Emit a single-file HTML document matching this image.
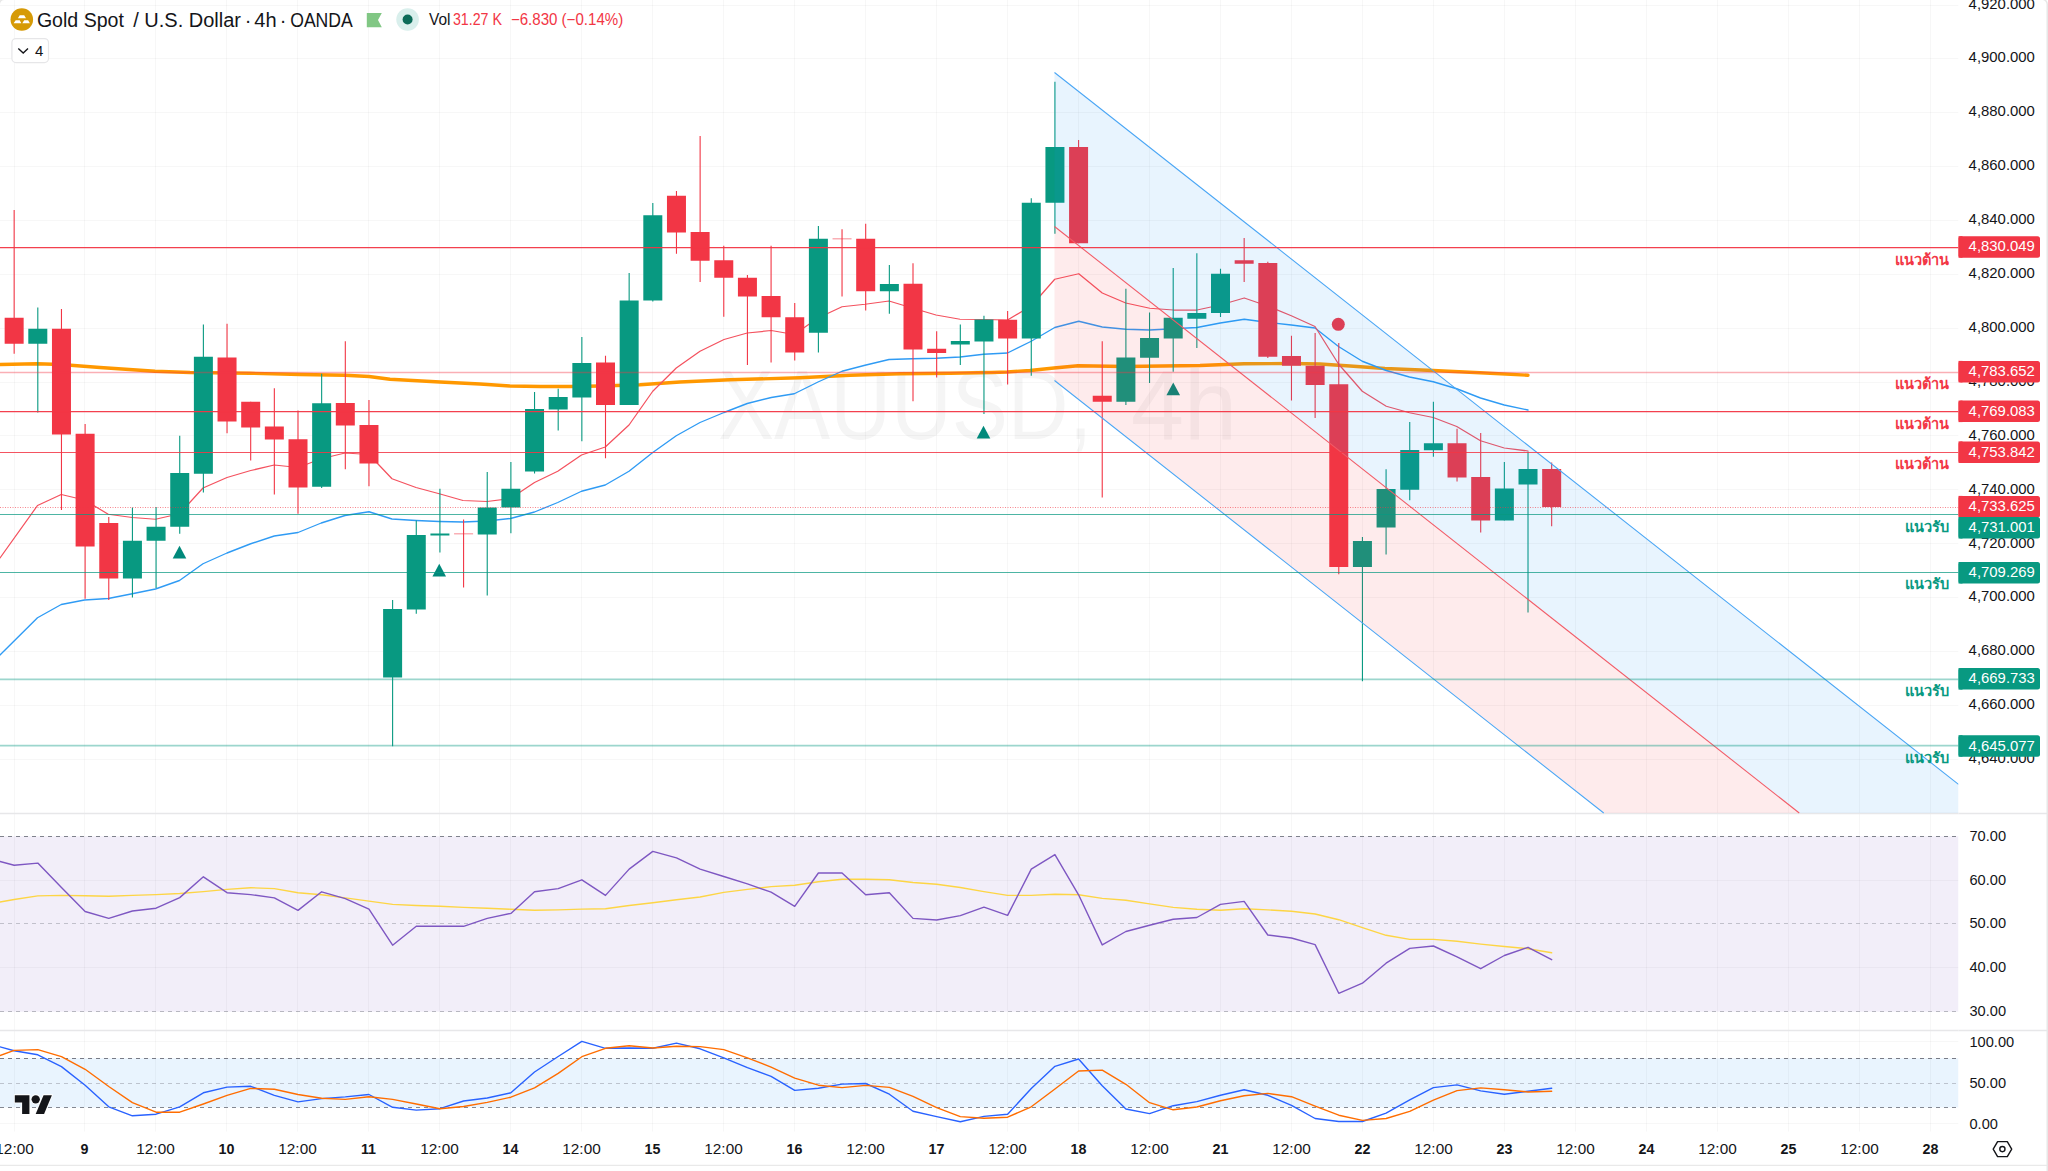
<!DOCTYPE html>
<html lang="th"><head><meta charset="utf-8"><title>XAUUSD 4h</title>
<style>html,body{margin:0;padding:0;background:#fff;overflow:hidden}body{width:2048px;height:1171px;position:relative}</style></head>
<body>
<svg width="2048" height="1171" viewBox="0 0 2048 1171" style="position:absolute;left:0;top:0">
<rect width="2048" height="1171" fill="#fff"/>
<rect x="0" y="836.3" width="1958.5" height="175.4" fill="#f2eef9"/>
<rect x="0" y="1058.3" width="1958.5" height="49.1" fill="#e9f4fe"/>
<path d="M14.5 0V1131.5M84.5 0V1131.5M155.5 0V1131.5M226.5 0V1131.5M297.5 0V1131.5M368.5 0V1131.5M439.5 0V1131.5M510.5 0V1131.5M581.5 0V1131.5M652.5 0V1131.5M723.5 0V1131.5M794.5 0V1131.5M865.5 0V1131.5M936.5 0V1131.5M1007.5 0V1131.5M1078.5 0V1131.5M1149.5 0V1131.5M1220.5 0V1131.5M1291.5 0V1131.5M1362.5 0V1131.5M1433.5 0V1131.5M1504.5 0V1131.5M1575.5 0V1131.5M1646.5 0V1131.5M1717.5 0V1131.5M1788.5 0V1131.5M1859.5 0V1131.5M1930.5 0V1131.5M0 759.5H1958.5M0 705.5H1958.5M0 651.5H1958.5M0 597.5H1958.5M0 543.5H1958.5M0 489.5H1958.5M0 435.5H1958.5M0 382.5H1958.5M0 328.5H1958.5M0 274.5H1958.5M0 220.5H1958.5M0 166.5H1958.5M0 112.5H1958.5M0 58.5H1958.5M0 5.5H1958.5M0 880.5H1958.5M0 967.5H1958.5M0 1041.5H1958.5M0 1123.5H1958.5" stroke="#131722" stroke-opacity="0.034" stroke-width="1" fill="none"/>
<path d="M0 836.5H1958.5" stroke="#787b86" stroke-opacity="0.95" stroke-width="1" stroke-dasharray="4 4" fill="none"/>
<path d="M0 923.5H1958.5" stroke="#787b86" stroke-opacity="0.4" stroke-width="1" stroke-dasharray="4 4" fill="none"/>
<path d="M0 1011.5H1958.5" stroke="#787b86" stroke-opacity="0.5" stroke-width="1" stroke-dasharray="4 4" fill="none"/>
<path d="M0 1058.5H1958.5" stroke="#787b86" stroke-opacity="1" stroke-width="1" stroke-dasharray="4 4" fill="none"/>
<path d="M0 1083.5H1958.5" stroke="#787b86" stroke-opacity="0.4" stroke-width="1" stroke-dasharray="4 4" fill="none"/>
<path d="M0 1107.5H1958.5" stroke="#787b86" stroke-opacity="0.9" stroke-width="1" stroke-dasharray="4 4" fill="none"/>
<path d="M0 813.5H2048 M0 1030.5H2048" stroke="#e7e7e9" stroke-width="1.4" fill="none"/>
<g font-size="98" font-family="Liberation Sans, DejaVu Sans, sans-serif" fill="#131722" fill-opacity="0.042"><text x="718" y="438.5" textLength="374" lengthAdjust="spacingAndGlyphs">XAUUSD,</text><text x="1131" y="438.5" textLength="106" lengthAdjust="spacingAndGlyphs">4h</text></g>
<polyline fill="none" stroke="#ff9800" stroke-width="3.4" stroke-linejoin="round" stroke-linecap="round"  points="0.00,364.50 37.00,363.75 61.00,364.50 100.00,367.50 155.00,371.25 190.00,372.50 250.00,373.25 300.00,374.50 345.00,375.25 369.00,376.50 390.00,379.25 440.00,382.00 480.00,384.00 510.00,386.00 540.00,386.50 570.00,386.50 600.00,386.00 640.00,384.75 680.00,382.00 730.00,379.75 800.00,377.75 850.00,375.25 900.00,373.75 950.00,373.25 992.00,372.50 1007.00,372.00 1030.00,370.50 1054.00,368.00 1078.00,365.75 1125.00,366.50 1200.00,365.50 1244.00,363.75 1291.00,363.50 1320.00,364.00 1350.00,366.00 1385.00,368.50 1433.00,370.50 1480.00,372.75 1528.00,375.25"/>
<polyline fill="none" stroke="#2f9bf4" stroke-width="1.35" stroke-linejoin="round" stroke-linecap="round"  points="0.00,655.00 37.50,617.75 61.25,604.50 84.50,600.00 108.25,598.50 132.25,593.75 155.50,589.00 179.50,580.50 203.00,563.75 227.00,553.00 250.75,543.75 274.25,536.00 298.00,532.50 321.25,523.00 345.00,515.50 369.00,511.75 392.00,519.00 416.00,520.50 439.25,521.50 463.00,522.00 487.00,521.00 510.50,518.50 534.50,512.00 557.75,502.50 581.50,491.25 605.25,485.00 629.00,471.25 652.75,452.50 676.25,435.75 700.00,422.50 724.00,412.50 747.25,403.50 771.25,397.50 794.25,393.75 818.00,382.00 842.00,371.25 865.00,365.25 889.00,359.50 912.25,358.75 936.00,358.25 960.00,357.00 983.50,354.25 1007.50,353.00 1031.25,341.25 1054.75,327.50 1078.75,321.25 1102.25,327.00 1125.75,329.25 1149.75,330.00 1173.25,328.75 1197.00,327.50 1220.25,323.00 1244.25,319.25 1268.25,322.50 1291.30,325.00 1315.00,328.00 1338.50,346.50 1362.25,361.25 1386.25,370.50 1409.50,377.00 1433.25,381.75 1456.75,388.75 1480.50,398.00 1504.25,405.00 1528.00,410.00"/>
<polyline fill="none" stroke="#f4525f" stroke-width="1.25" stroke-linejoin="round" stroke-linecap="round"  points="0.00,558.00 37.50,505.50 61.25,494.50 84.50,500.00 108.25,514.25 132.25,517.50 155.50,519.25 179.50,513.75 203.00,488.00 227.00,477.50 250.75,470.50 274.25,465.00 298.00,467.50 321.25,458.75 345.00,453.00 369.00,454.50 392.00,478.75 416.00,487.50 439.25,493.75 463.00,500.50 487.00,501.50 510.50,498.50 534.50,482.50 557.75,471.25 581.50,455.00 605.25,447.00 629.00,425.00 652.75,391.25 676.25,368.00 700.00,351.25 724.00,339.50 747.25,333.00 771.25,330.50 794.25,334.50 818.00,318.00 842.00,306.75 865.00,304.25 889.00,301.00 912.25,308.00 936.00,315.00 960.00,319.25 983.50,319.50 1007.50,320.00 1031.25,306.00 1054.75,279.25 1078.75,273.75 1102.25,293.00 1125.75,303.00 1149.75,308.25 1173.25,310.00 1197.00,310.00 1220.25,305.00 1244.25,298.00 1268.25,306.25 1291.30,315.75 1315.00,326.50 1338.50,364.00 1362.25,391.25 1386.25,406.25 1409.50,412.75 1433.25,417.50 1456.75,426.50 1480.50,440.75 1504.25,448.00 1528.00,451.00"/>
<rect x="13.60" y="210.00" width="1.1" height="143.75" fill="#f23645"/>
<rect x="4.65" y="317.75" width="19" height="26.00" fill="#f23645"/>
<rect x="37.25" y="307.50" width="1.1" height="105.00" fill="#089981"/>
<rect x="28.30" y="328.75" width="19" height="15.00" fill="#089981"/>
<rect x="60.91" y="309.00" width="1.1" height="201.00" fill="#f23645"/>
<rect x="51.96" y="328.75" width="19" height="105.75" fill="#f23645"/>
<rect x="84.56" y="424.00" width="1.1" height="174.75" fill="#f23645"/>
<rect x="75.61" y="433.75" width="19" height="112.75" fill="#f23645"/>
<rect x="108.22" y="517.00" width="1.1" height="83.00" fill="#f23645"/>
<rect x="99.27" y="523.00" width="19" height="55.50" fill="#f23645"/>
<rect x="131.87" y="507.50" width="1.1" height="90.00" fill="#089981"/>
<rect x="122.92" y="540.75" width="19" height="37.75" fill="#089981"/>
<rect x="155.52" y="507.00" width="1.1" height="81.00" fill="#089981"/>
<rect x="146.57" y="526.75" width="19" height="14.00" fill="#089981"/>
<rect x="179.18" y="435.75" width="1.1" height="98.00" fill="#089981"/>
<rect x="170.23" y="473.00" width="19" height="53.75" fill="#089981"/>
<rect x="202.83" y="324.50" width="1.1" height="168.00" fill="#089981"/>
<rect x="193.88" y="356.75" width="19" height="117.00" fill="#089981"/>
<rect x="226.49" y="323.75" width="1.1" height="109.50" fill="#f23645"/>
<rect x="217.54" y="357.50" width="19" height="64.00" fill="#f23645"/>
<rect x="250.14" y="401.75" width="1.1" height="58.75" fill="#f23645"/>
<rect x="241.19" y="401.75" width="19" height="25.75" fill="#f23645"/>
<rect x="273.79" y="388.25" width="1.1" height="106.25" fill="#f23645"/>
<rect x="264.84" y="426.50" width="19" height="13.00" fill="#f23645"/>
<rect x="297.45" y="410.50" width="1.1" height="103.25" fill="#f23645"/>
<rect x="288.50" y="439.25" width="19" height="48.25" fill="#f23645"/>
<rect x="321.10" y="373.75" width="1.1" height="114.25" fill="#089981"/>
<rect x="312.15" y="403.25" width="19" height="83.50" fill="#089981"/>
<rect x="344.76" y="341.25" width="1.1" height="128.00" fill="#f23645"/>
<rect x="335.81" y="403.00" width="19" height="22.50" fill="#f23645"/>
<rect x="368.41" y="400.00" width="1.1" height="86.25" fill="#f23645"/>
<rect x="359.46" y="425.00" width="19" height="38.50" fill="#f23645"/>
<rect x="392.06" y="600.00" width="1.1" height="146.25" fill="#089981"/>
<rect x="383.11" y="609.00" width="19" height="68.50" fill="#089981"/>
<rect x="415.72" y="520.50" width="1.1" height="93.25" fill="#089981"/>
<rect x="406.77" y="535.00" width="19" height="74.50" fill="#089981"/>
<rect x="439.37" y="488.75" width="1.1" height="63.75" fill="#089981"/>
<rect x="430.42" y="533.50" width="19" height="2.00" fill="#089981"/>
<rect x="463.03" y="519.50" width="1.1" height="68.00" fill="#f23645"/>
<rect x="454.08" y="533.00" width="19" height="1.50" fill="#f23645" fill-opacity="0.4"/>
<rect x="486.68" y="472.00" width="1.1" height="123.50" fill="#089981"/>
<rect x="477.73" y="507.50" width="19" height="27.00" fill="#089981"/>
<rect x="510.33" y="462.00" width="1.1" height="71.25" fill="#089981"/>
<rect x="501.38" y="488.75" width="19" height="18.75" fill="#089981"/>
<rect x="533.99" y="392.00" width="1.1" height="81.50" fill="#089981"/>
<rect x="525.04" y="409.00" width="19" height="62.50" fill="#089981"/>
<rect x="557.64" y="388.75" width="1.1" height="41.75" fill="#089981"/>
<rect x="548.69" y="397.00" width="19" height="12.50" fill="#089981"/>
<rect x="581.30" y="337.00" width="1.1" height="104.25" fill="#089981"/>
<rect x="572.35" y="363.00" width="19" height="34.50" fill="#089981"/>
<rect x="604.95" y="355.75" width="1.1" height="102.50" fill="#f23645"/>
<rect x="596.00" y="362.50" width="19" height="42.50" fill="#f23645"/>
<rect x="628.60" y="273.00" width="1.1" height="132.00" fill="#089981"/>
<rect x="619.65" y="300.50" width="19" height="104.50" fill="#089981"/>
<rect x="652.26" y="203.00" width="1.1" height="98.50" fill="#089981"/>
<rect x="643.31" y="215.25" width="19" height="85.25" fill="#089981"/>
<rect x="675.91" y="191.00" width="1.1" height="62.75" fill="#f23645"/>
<rect x="666.96" y="195.75" width="19" height="36.75" fill="#f23645"/>
<rect x="699.57" y="136.00" width="1.1" height="146.00" fill="#f23645"/>
<rect x="690.62" y="232.00" width="19" height="28.75" fill="#f23645"/>
<rect x="723.22" y="245.75" width="1.1" height="71.00" fill="#f23645"/>
<rect x="714.27" y="260.25" width="19" height="17.50" fill="#f23645"/>
<rect x="746.87" y="275.00" width="1.1" height="90.00" fill="#f23645"/>
<rect x="737.92" y="277.75" width="19" height="18.75" fill="#f23645"/>
<rect x="770.53" y="245.75" width="1.1" height="116.75" fill="#f23645"/>
<rect x="761.58" y="296.00" width="19" height="21.25" fill="#f23645"/>
<rect x="794.18" y="303.00" width="1.1" height="57.50" fill="#f23645"/>
<rect x="785.23" y="317.25" width="19" height="35.25" fill="#f23645"/>
<rect x="817.84" y="226.00" width="1.1" height="126.50" fill="#089981"/>
<rect x="808.89" y="238.75" width="19" height="94.00" fill="#089981"/>
<rect x="841.49" y="229.25" width="1.1" height="67.25" fill="#f23645"/>
<rect x="832.54" y="238.00" width="19" height="1.50" fill="#f23645" fill-opacity="0.4"/>
<rect x="865.14" y="223.75" width="1.1" height="86.75" fill="#f23645"/>
<rect x="856.19" y="238.75" width="19" height="52.50" fill="#f23645"/>
<rect x="888.80" y="265.00" width="1.1" height="48.75" fill="#089981"/>
<rect x="879.85" y="284.00" width="19" height="7.25" fill="#089981"/>
<rect x="912.45" y="263.25" width="1.1" height="138.00" fill="#f23645"/>
<rect x="903.50" y="283.75" width="19" height="65.75" fill="#f23645"/>
<rect x="936.11" y="331.25" width="1.1" height="46.25" fill="#f23645"/>
<rect x="927.16" y="348.75" width="19" height="4.25" fill="#f23645"/>
<rect x="959.76" y="324.50" width="1.1" height="40.50" fill="#089981"/>
<rect x="950.81" y="341.00" width="19" height="3.50" fill="#089981"/>
<rect x="983.41" y="315.75" width="1.1" height="98.25" fill="#089981"/>
<rect x="974.46" y="319.50" width="19" height="22.00" fill="#089981"/>
<rect x="1007.07" y="311.00" width="1.1" height="73.50" fill="#f23645"/>
<rect x="998.12" y="319.75" width="19" height="18.75" fill="#f23645"/>
<rect x="1030.72" y="198.25" width="1.1" height="177.50" fill="#089981"/>
<rect x="1021.77" y="202.75" width="19" height="135.75" fill="#089981"/>
<rect x="1054.38" y="81.75" width="1.1" height="152.00" fill="#089981"/>
<rect x="1045.43" y="147.00" width="19" height="55.75" fill="#089981"/>
<rect x="1078.03" y="140.00" width="1.1" height="103.25" fill="#f23645"/>
<rect x="1069.08" y="147.00" width="19" height="96.25" fill="#f23645"/>
<rect x="1101.68" y="341.25" width="1.1" height="156.25" fill="#f23645"/>
<rect x="1092.73" y="395.75" width="19" height="6.00" fill="#f23645"/>
<rect x="1125.34" y="288.75" width="1.1" height="116.25" fill="#089981"/>
<rect x="1116.39" y="357.50" width="19" height="44.25" fill="#089981"/>
<rect x="1148.99" y="312.50" width="1.1" height="70.50" fill="#089981"/>
<rect x="1140.04" y="338.00" width="19" height="19.75" fill="#089981"/>
<rect x="1172.65" y="268.00" width="1.1" height="103.75" fill="#089981"/>
<rect x="1163.70" y="317.75" width="19" height="20.75" fill="#089981"/>
<rect x="1196.30" y="253.25" width="1.1" height="94.75" fill="#089981"/>
<rect x="1187.35" y="313.00" width="19" height="5.75" fill="#089981"/>
<rect x="1219.95" y="268.75" width="1.1" height="48.25" fill="#089981"/>
<rect x="1211.00" y="273.75" width="19" height="39.25" fill="#089981"/>
<rect x="1243.61" y="238.00" width="1.1" height="44.00" fill="#f23645"/>
<rect x="1234.66" y="260.25" width="19" height="3.50" fill="#f23645"/>
<rect x="1267.26" y="261.75" width="1.1" height="96.25" fill="#f23645"/>
<rect x="1258.31" y="263.00" width="19" height="93.75" fill="#f23645"/>
<rect x="1290.92" y="335.75" width="1.1" height="64.75" fill="#f23645"/>
<rect x="1281.97" y="356.00" width="19" height="9.75" fill="#f23645"/>
<rect x="1314.57" y="333.00" width="1.1" height="85.00" fill="#f23645"/>
<rect x="1305.62" y="365.75" width="19" height="19.25" fill="#f23645"/>
<rect x="1338.22" y="343.00" width="1.1" height="231.25" fill="#f23645"/>
<rect x="1329.27" y="384.25" width="19" height="182.75" fill="#f23645"/>
<rect x="1361.88" y="537.00" width="1.1" height="144.25" fill="#089981"/>
<rect x="1352.93" y="541.00" width="19" height="26.00" fill="#089981"/>
<rect x="1385.53" y="469.25" width="1.1" height="85.25" fill="#089981"/>
<rect x="1376.58" y="489.00" width="19" height="38.50" fill="#089981"/>
<rect x="1409.19" y="422.00" width="1.1" height="78.25" fill="#089981"/>
<rect x="1400.24" y="450.00" width="19" height="39.75" fill="#089981"/>
<rect x="1432.84" y="401.75" width="1.1" height="55.00" fill="#089981"/>
<rect x="1423.89" y="443.25" width="19" height="7.00" fill="#089981"/>
<rect x="1456.49" y="428.75" width="1.1" height="52.75" fill="#f23645"/>
<rect x="1447.54" y="443.25" width="19" height="34.25" fill="#f23645"/>
<rect x="1480.15" y="433.00" width="1.1" height="99.50" fill="#f23645"/>
<rect x="1471.20" y="477.00" width="19" height="43.50" fill="#f23645"/>
<rect x="1503.80" y="462.00" width="1.1" height="58.50" fill="#089981"/>
<rect x="1494.85" y="488.50" width="19" height="32.00" fill="#089981"/>
<rect x="1527.46" y="451.75" width="1.1" height="160.75" fill="#089981"/>
<rect x="1518.51" y="469.00" width="19" height="15.50" fill="#089981"/>
<rect x="1551.11" y="462.50" width="1.1" height="63.75" fill="#f23645"/>
<rect x="1542.16" y="469.00" width="19" height="38.00" fill="#f23645"/>
<path d="M179.50 545.75L186.30 558.45H172.70Z" fill="#00897b"/>
<path d="M439.25 563.75L446.05 576.45H432.45Z" fill="#00897b"/>
<path d="M983.50 425.75L990.30 438.45H976.70Z" fill="#00897b"/>
<path d="M1173.25 382.50L1180.05 395.20H1166.45Z" fill="#00897b"/>
<circle cx="1338.3" cy="324.3" r="6.5" fill="#f23645"/>
<path d="M1054.50 72.50L1958.50 784.40V813H1799.26L1054.50 226.50Z" fill="#2196f3" fill-opacity="0.1"/>
<path d="M1054.50 226.50L1799.26 813H1603.71L1054.50 380.50Z" fill="#f23645" fill-opacity="0.1"/>
<path d="M1054.50 72.50L1958.50 784.40M1054.50 380.50L1603.71 813" stroke="#4aa6f5" stroke-width="1.05" fill="none"/>
<path d="M1054.50 226.50L1799.26 813" stroke="#f25a66" stroke-width="1.05" fill="none"/>
<path d="M0 247.5H1958.5" stroke="#f23645" stroke-opacity="0.95" stroke-width="1.25" fill="none"/>
<path d="M0 372.5H1958.5" stroke="#f23645" stroke-opacity="0.4" stroke-width="1.6" fill="none"/>
<path d="M0 411.5H1958.5" stroke="#f23645" stroke-opacity="0.95" stroke-width="1.25" fill="none"/>
<path d="M0 452.5H1958.5" stroke="#f23645" stroke-opacity="0.85" stroke-width="1.2" fill="none"/>
<path d="M0 514.5H1958.5" stroke="#089981" stroke-opacity="0.72" stroke-width="1.2" fill="none"/>
<path d="M0 572.5H1958.5" stroke="#089981" stroke-opacity="0.72" stroke-width="1.2" fill="none"/>
<path d="M0 679.3H1958.5" stroke="#089981" stroke-opacity="0.4" stroke-width="1.8" fill="none"/>
<path d="M0 745.6H1958.5" stroke="#089981" stroke-opacity="0.4" stroke-width="1.8" fill="none"/>
<path d="M0 507.5H1958.5" stroke="#f23645" stroke-opacity="0.6" stroke-width="1" stroke-dasharray="1 1.5" fill="none"/>
<polyline fill="none" stroke="#fdd545" stroke-width="1.4" stroke-linejoin="round" stroke-linecap="round"  points="0.00,902.00 14.15,899.50 37.80,895.90 61.46,895.40 85.11,895.80 108.77,896.20 132.42,895.40 156.07,894.60 179.73,893.50 203.38,891.60 227.04,889.40 250.69,887.70 274.34,888.60 298.00,892.70 321.65,894.80 345.31,897.90 368.96,901.10 392.61,904.40 416.27,905.50 439.92,906.30 463.58,907.40 487.23,908.20 510.88,909.30 534.54,910.20 558.19,909.90 581.85,909.10 605.50,908.80 629.15,905.50 652.81,902.80 676.46,899.80 700.12,897.00 723.77,892.40 747.42,889.40 771.08,886.60 794.73,885.30 818.39,881.70 842.04,879.30 865.69,879.30 889.35,879.80 913.00,882.50 936.66,884.20 960.31,887.50 983.96,891.60 1007.62,895.40 1031.27,895.40 1054.93,894.30 1078.58,894.80 1102.23,898.40 1125.89,900.30 1149.54,903.90 1173.20,907.40 1196.85,909.30 1220.50,910.20 1244.16,908.80 1267.81,909.90 1291.47,911.30 1315.12,914.00 1338.77,919.70 1362.43,927.70 1386.08,935.30 1409.74,939.40 1433.39,939.40 1457.04,941.30 1480.70,944.10 1504.35,946.50 1528.01,948.70 1551.66,952.80"/>
<polyline fill="none" stroke="#7e57c2" stroke-width="1.4" stroke-linejoin="round" stroke-linecap="round"  points="0.00,861.50 14.15,865.30 37.80,863.10 61.46,887.50 85.11,911.50 108.77,918.40 132.42,911.00 156.07,908.20 179.73,897.60 203.38,876.80 227.04,892.70 250.69,894.60 274.34,897.90 298.00,910.40 321.65,891.80 345.31,898.70 368.96,909.10 392.61,945.20 416.27,926.30 439.92,926.30 463.58,926.30 487.23,918.40 510.88,913.40 534.54,891.80 558.19,888.60 581.85,879.80 605.50,895.40 629.15,869.10 652.81,851.40 676.46,857.90 700.12,869.10 723.77,876.50 747.42,883.90 771.08,892.10 794.73,906.30 818.39,873.00 842.04,873.00 865.69,894.80 889.35,892.70 913.00,918.40 936.66,920.00 960.31,915.60 983.96,907.20 1007.62,915.40 1031.27,869.10 1054.93,854.60 1078.58,894.80 1102.23,944.90 1125.89,931.50 1149.54,925.20 1173.20,919.20 1196.85,917.50 1220.50,904.40 1244.16,901.40 1267.81,935.00 1291.47,938.00 1315.12,944.60 1338.77,993.30 1362.43,983.20 1386.08,963.20 1409.74,948.40 1433.39,946.00 1457.04,956.90 1480.70,968.70 1504.35,955.50 1528.01,947.30 1551.66,959.70"/>
<polyline fill="none" stroke="#2962ff" stroke-width="1.4" stroke-linejoin="round" stroke-linecap="round"  points="0.00,1046.90 14.15,1050.70 37.80,1054.80 61.46,1066.60 85.11,1085.20 108.77,1106.80 132.42,1115.80 156.07,1114.20 179.73,1106.80 203.38,1092.80 227.04,1087.10 250.69,1086.30 274.34,1095.30 298.00,1101.90 321.65,1098.60 345.31,1096.90 368.96,1094.50 392.61,1107.30 416.27,1110.10 439.92,1108.70 463.58,1101.00 487.23,1098.00 510.88,1092.80 534.54,1072.00 558.19,1056.50 581.85,1041.40 605.50,1048.30 629.15,1048.00 652.81,1048.30 676.46,1043.10 700.12,1048.80 723.77,1057.80 747.42,1067.70 771.08,1076.40 794.73,1090.40 818.39,1088.20 842.04,1084.10 865.69,1083.50 889.35,1094.20 913.00,1111.20 936.66,1116.60 960.31,1121.80 983.96,1116.40 1007.62,1114.20 1031.27,1088.50 1054.93,1066.30 1078.58,1059.00 1102.23,1085.70 1125.89,1109.00 1149.54,1113.60 1173.20,1105.70 1196.85,1101.60 1220.50,1095.30 1244.16,1089.80 1267.81,1095.30 1291.47,1105.40 1315.12,1118.50 1338.77,1121.50 1362.43,1121.50 1386.08,1113.10 1409.74,1099.90 1433.39,1087.60 1457.04,1084.90 1480.70,1090.90 1504.35,1094.20 1528.01,1091.20 1551.66,1088.20"/>
<polyline fill="none" stroke="#ff6d00" stroke-width="1.4" stroke-linejoin="round" stroke-linecap="round"  points="0.00,1055.60 14.15,1050.40 37.80,1049.60 61.46,1056.70 85.11,1069.30 108.77,1086.50 132.42,1102.70 156.07,1112.20 179.73,1112.20 203.38,1104.00 227.04,1095.30 250.69,1088.40 274.34,1089.30 298.00,1094.50 321.65,1098.30 345.31,1099.40 368.96,1096.70 392.61,1099.40 416.27,1104.00 439.92,1108.70 463.58,1106.50 487.23,1102.40 510.88,1097.20 534.54,1087.90 558.19,1073.40 581.85,1056.70 605.50,1048.30 629.15,1045.80 652.81,1048.00 676.46,1046.30 700.12,1046.60 723.77,1049.60 747.42,1057.80 771.08,1067.10 794.73,1078.10 818.39,1085.20 842.04,1087.60 865.69,1085.40 889.35,1087.40 913.00,1096.40 936.66,1107.60 960.31,1116.60 983.96,1118.30 1007.62,1117.20 1031.27,1106.80 1054.93,1089.00 1078.58,1071.00 1102.23,1070.10 1125.89,1084.30 1149.54,1102.70 1173.20,1109.80 1196.85,1107.00 1220.50,1100.80 1244.16,1095.80 1267.81,1093.40 1291.47,1096.70 1315.12,1106.20 1338.77,1115.20 1362.43,1120.40 1386.08,1118.50 1409.74,1111.40 1433.39,1100.20 1457.04,1090.60 1480.70,1087.90 1504.35,1089.80 1528.01,1092.00 1551.66,1091.20"/>
<rect x="1958.5" y="0" width="89.5" height="1131" fill="#fff"/>
<path d="M1958.5 813.5H2048 M1958.5 1030.5H2048" stroke="#e7e7e9" stroke-width="1.4" fill="none"/>
<text x="1968.6" textLength="66.3" lengthAdjust="spacingAndGlyphs" y="763.2" font-size="14.6" font-family="Liberation Sans, DejaVu Sans, sans-serif" fill="#141519">4,640.000</text>
<text x="1968.6" textLength="66.3" lengthAdjust="spacingAndGlyphs" y="709.3" font-size="14.6" font-family="Liberation Sans, DejaVu Sans, sans-serif" fill="#141519">4,660.000</text>
<text x="1968.6" textLength="66.3" lengthAdjust="spacingAndGlyphs" y="655.4" font-size="14.6" font-family="Liberation Sans, DejaVu Sans, sans-serif" fill="#141519">4,680.000</text>
<text x="1968.6" textLength="66.3" lengthAdjust="spacingAndGlyphs" y="601.4" font-size="14.6" font-family="Liberation Sans, DejaVu Sans, sans-serif" fill="#141519">4,700.000</text>
<text x="1968.6" textLength="66.3" lengthAdjust="spacingAndGlyphs" y="547.5" font-size="14.6" font-family="Liberation Sans, DejaVu Sans, sans-serif" fill="#141519">4,720.000</text>
<text x="1968.6" textLength="66.3" lengthAdjust="spacingAndGlyphs" y="493.6" font-size="14.6" font-family="Liberation Sans, DejaVu Sans, sans-serif" fill="#141519">4,740.000</text>
<text x="1968.6" textLength="66.3" lengthAdjust="spacingAndGlyphs" y="439.7" font-size="14.6" font-family="Liberation Sans, DejaVu Sans, sans-serif" fill="#141519">4,760.000</text>
<text x="1968.6" textLength="66.3" lengthAdjust="spacingAndGlyphs" y="385.7" font-size="14.6" font-family="Liberation Sans, DejaVu Sans, sans-serif" fill="#141519">4,780.000</text>
<text x="1968.6" textLength="66.3" lengthAdjust="spacingAndGlyphs" y="331.8" font-size="14.6" font-family="Liberation Sans, DejaVu Sans, sans-serif" fill="#141519">4,800.000</text>
<text x="1968.6" textLength="66.3" lengthAdjust="spacingAndGlyphs" y="277.9" font-size="14.6" font-family="Liberation Sans, DejaVu Sans, sans-serif" fill="#141519">4,820.000</text>
<text x="1968.6" textLength="66.3" lengthAdjust="spacingAndGlyphs" y="224.0" font-size="14.6" font-family="Liberation Sans, DejaVu Sans, sans-serif" fill="#141519">4,840.000</text>
<text x="1968.6" textLength="66.3" lengthAdjust="spacingAndGlyphs" y="170.0" font-size="14.6" font-family="Liberation Sans, DejaVu Sans, sans-serif" fill="#141519">4,860.000</text>
<text x="1968.6" textLength="66.3" lengthAdjust="spacingAndGlyphs" y="116.1" font-size="14.6" font-family="Liberation Sans, DejaVu Sans, sans-serif" fill="#141519">4,880.000</text>
<text x="1968.6" textLength="66.3" lengthAdjust="spacingAndGlyphs" y="62.2" font-size="14.6" font-family="Liberation Sans, DejaVu Sans, sans-serif" fill="#141519">4,900.000</text>
<text x="1968.6" textLength="66.3" lengthAdjust="spacingAndGlyphs" y="9.0" font-size="14.6" font-family="Liberation Sans, DejaVu Sans, sans-serif" fill="#141519">4,920.000</text>
<text x="1969.5" y="840.6" font-size="14.6" font-family="Liberation Sans, DejaVu Sans, sans-serif" fill="#141519">70.00</text>
<text x="1969.5" y="884.6" font-size="14.6" font-family="Liberation Sans, DejaVu Sans, sans-serif" fill="#141519">60.00</text>
<text x="1969.5" y="928.4" font-size="14.6" font-family="Liberation Sans, DejaVu Sans, sans-serif" fill="#141519">50.00</text>
<text x="1969.5" y="972.2" font-size="14.6" font-family="Liberation Sans, DejaVu Sans, sans-serif" fill="#141519">40.00</text>
<text x="1969.5" y="1016.2" font-size="14.6" font-family="Liberation Sans, DejaVu Sans, sans-serif" fill="#141519">30.00</text>
<text x="1969.5" y="1046.8" font-size="14.6" font-family="Liberation Sans, DejaVu Sans, sans-serif" fill="#141519">100.00</text>
<text x="1969.5" y="1088.1" font-size="14.6" font-family="Liberation Sans, DejaVu Sans, sans-serif" fill="#141519">50.00</text>
<text x="1969.5" y="1129.2" font-size="14.6" font-family="Liberation Sans, DejaVu Sans, sans-serif" fill="#141519">0.00</text>
<rect x="1958.5" y="236.2" width="81.5" height="21.5" rx="2.5" fill="#f23645"/><rect x="1958.5" y="236.2" width="4" height="21.5" fill="#f23645"/><text x="1968.6" textLength="66.3" lengthAdjust="spacingAndGlyphs" y="251.4" font-size="14.6" font-family="Liberation Sans, DejaVu Sans, sans-serif" fill="#fff">4,830.049</text>
<rect x="1958.5" y="360.9" width="81.5" height="21.5" rx="2.5" fill="#f23645"/><rect x="1958.5" y="360.9" width="4" height="21.5" fill="#f23645"/><text x="1968.6" textLength="66.3" lengthAdjust="spacingAndGlyphs" y="376.2" font-size="14.6" font-family="Liberation Sans, DejaVu Sans, sans-serif" fill="#fff">4,783.652</text>
<rect x="1958.5" y="400.6" width="81.5" height="21.5" rx="2.5" fill="#f23645"/><rect x="1958.5" y="400.6" width="4" height="21.5" fill="#f23645"/><text x="1968.6" textLength="66.3" lengthAdjust="spacingAndGlyphs" y="415.9" font-size="14.6" font-family="Liberation Sans, DejaVu Sans, sans-serif" fill="#fff">4,769.083</text>
<rect x="1958.5" y="441.4" width="81.5" height="21.5" rx="2.5" fill="#f23645"/><rect x="1958.5" y="441.4" width="4" height="21.5" fill="#f23645"/><text x="1968.6" textLength="66.3" lengthAdjust="spacingAndGlyphs" y="456.7" font-size="14.6" font-family="Liberation Sans, DejaVu Sans, sans-serif" fill="#fff">4,753.842</text>
<rect x="1958.5" y="495.9" width="81.5" height="21.5" rx="2.5" fill="#f23645"/><rect x="1958.5" y="495.9" width="4" height="21.5" fill="#f23645"/><text x="1968.6" textLength="66.3" lengthAdjust="spacingAndGlyphs" y="511.2" font-size="14.6" font-family="Liberation Sans, DejaVu Sans, sans-serif" fill="#fff">4,733.625</text>
<rect x="1958.5" y="517.0" width="81.5" height="21.5" rx="2.5" fill="#089981"/><rect x="1958.5" y="517.0" width="4" height="21.5" fill="#089981"/><text x="1968.6" textLength="66.3" lengthAdjust="spacingAndGlyphs" y="532.2" font-size="14.6" font-family="Liberation Sans, DejaVu Sans, sans-serif" fill="#fff">4,731.001</text>
<rect x="1958.5" y="562.0" width="81.5" height="21.5" rx="2.5" fill="#089981"/><rect x="1958.5" y="562.0" width="4" height="21.5" fill="#089981"/><text x="1968.6" textLength="66.3" lengthAdjust="spacingAndGlyphs" y="577.2" font-size="14.6" font-family="Liberation Sans, DejaVu Sans, sans-serif" fill="#fff">4,709.269</text>
<rect x="1958.5" y="668.1" width="81.5" height="21.5" rx="2.5" fill="#089981"/><rect x="1958.5" y="668.1" width="4" height="21.5" fill="#089981"/><text x="1968.6" textLength="66.3" lengthAdjust="spacingAndGlyphs" y="683.4" font-size="14.6" font-family="Liberation Sans, DejaVu Sans, sans-serif" fill="#fff">4,669.733</text>
<rect x="1958.5" y="735.2" width="81.5" height="21.5" rx="2.5" fill="#089981"/><rect x="1958.5" y="735.2" width="4" height="21.5" fill="#089981"/><text x="1968.6" textLength="66.3" lengthAdjust="spacingAndGlyphs" y="750.5" font-size="14.6" font-family="Liberation Sans, DejaVu Sans, sans-serif" fill="#fff">4,645.077</text>
<text x="1948.6" y="265.0" text-anchor="end" font-size="14.5" font-weight="bold" font-family="Liberation Sans, DejaVu Sans, sans-serif" fill="#f23645">แนวต้าน</text>
<text x="1948.6" y="389.0" text-anchor="end" font-size="14.5" font-weight="bold" font-family="Liberation Sans, DejaVu Sans, sans-serif" fill="#f23645">แนวต้าน</text>
<text x="1948.6" y="429.0" text-anchor="end" font-size="14.5" font-weight="bold" font-family="Liberation Sans, DejaVu Sans, sans-serif" fill="#f23645">แนวต้าน</text>
<text x="1948.6" y="469.4" text-anchor="end" font-size="14.5" font-weight="bold" font-family="Liberation Sans, DejaVu Sans, sans-serif" fill="#f23645">แนวต้าน</text>
<text x="1948.6" y="531.6" text-anchor="end" font-size="14.5" font-weight="bold" font-family="Liberation Sans, DejaVu Sans, sans-serif" fill="#089981">แนวรับ</text>
<text x="1948.6" y="589.0" text-anchor="end" font-size="14.5" font-weight="bold" font-family="Liberation Sans, DejaVu Sans, sans-serif" fill="#089981">แนวรับ</text>
<text x="1948.6" y="696.0" text-anchor="end" font-size="14.5" font-weight="bold" font-family="Liberation Sans, DejaVu Sans, sans-serif" fill="#089981">แนวรับ</text>
<text x="1948.6" y="763.0" text-anchor="end" font-size="14.5" font-weight="bold" font-family="Liberation Sans, DejaVu Sans, sans-serif" fill="#089981">แนวรับ</text>
<text x="14.5" y="1153.6" text-anchor="middle" font-size="14.3" textLength="38.4" lengthAdjust="spacingAndGlyphs" font-family="Liberation Sans, DejaVu Sans, sans-serif" fill="#141519">12:00</text>
<text x="84.5" y="1153.6" text-anchor="middle" font-size="14.3" font-weight="bold" font-family="Liberation Sans, DejaVu Sans, sans-serif" fill="#141519">9</text>
<text x="155.5" y="1153.6" text-anchor="middle" font-size="14.3" textLength="38.4" lengthAdjust="spacingAndGlyphs" font-family="Liberation Sans, DejaVu Sans, sans-serif" fill="#141519">12:00</text>
<text x="226.5" y="1153.6" text-anchor="middle" font-size="14.3" font-weight="bold" font-family="Liberation Sans, DejaVu Sans, sans-serif" fill="#141519">10</text>
<text x="297.5" y="1153.6" text-anchor="middle" font-size="14.3" textLength="38.4" lengthAdjust="spacingAndGlyphs" font-family="Liberation Sans, DejaVu Sans, sans-serif" fill="#141519">12:00</text>
<text x="368.5" y="1153.6" text-anchor="middle" font-size="14.3" font-weight="bold" font-family="Liberation Sans, DejaVu Sans, sans-serif" fill="#141519">11</text>
<text x="439.5" y="1153.6" text-anchor="middle" font-size="14.3" textLength="38.4" lengthAdjust="spacingAndGlyphs" font-family="Liberation Sans, DejaVu Sans, sans-serif" fill="#141519">12:00</text>
<text x="510.5" y="1153.6" text-anchor="middle" font-size="14.3" font-weight="bold" font-family="Liberation Sans, DejaVu Sans, sans-serif" fill="#141519">14</text>
<text x="581.5" y="1153.6" text-anchor="middle" font-size="14.3" textLength="38.4" lengthAdjust="spacingAndGlyphs" font-family="Liberation Sans, DejaVu Sans, sans-serif" fill="#141519">12:00</text>
<text x="652.5" y="1153.6" text-anchor="middle" font-size="14.3" font-weight="bold" font-family="Liberation Sans, DejaVu Sans, sans-serif" fill="#141519">15</text>
<text x="723.5" y="1153.6" text-anchor="middle" font-size="14.3" textLength="38.4" lengthAdjust="spacingAndGlyphs" font-family="Liberation Sans, DejaVu Sans, sans-serif" fill="#141519">12:00</text>
<text x="794.5" y="1153.6" text-anchor="middle" font-size="14.3" font-weight="bold" font-family="Liberation Sans, DejaVu Sans, sans-serif" fill="#141519">16</text>
<text x="865.5" y="1153.6" text-anchor="middle" font-size="14.3" textLength="38.4" lengthAdjust="spacingAndGlyphs" font-family="Liberation Sans, DejaVu Sans, sans-serif" fill="#141519">12:00</text>
<text x="936.5" y="1153.6" text-anchor="middle" font-size="14.3" font-weight="bold" font-family="Liberation Sans, DejaVu Sans, sans-serif" fill="#141519">17</text>
<text x="1007.5" y="1153.6" text-anchor="middle" font-size="14.3" textLength="38.4" lengthAdjust="spacingAndGlyphs" font-family="Liberation Sans, DejaVu Sans, sans-serif" fill="#141519">12:00</text>
<text x="1078.5" y="1153.6" text-anchor="middle" font-size="14.3" font-weight="bold" font-family="Liberation Sans, DejaVu Sans, sans-serif" fill="#141519">18</text>
<text x="1149.5" y="1153.6" text-anchor="middle" font-size="14.3" textLength="38.4" lengthAdjust="spacingAndGlyphs" font-family="Liberation Sans, DejaVu Sans, sans-serif" fill="#141519">12:00</text>
<text x="1220.5" y="1153.6" text-anchor="middle" font-size="14.3" font-weight="bold" font-family="Liberation Sans, DejaVu Sans, sans-serif" fill="#141519">21</text>
<text x="1291.5" y="1153.6" text-anchor="middle" font-size="14.3" textLength="38.4" lengthAdjust="spacingAndGlyphs" font-family="Liberation Sans, DejaVu Sans, sans-serif" fill="#141519">12:00</text>
<text x="1362.5" y="1153.6" text-anchor="middle" font-size="14.3" font-weight="bold" font-family="Liberation Sans, DejaVu Sans, sans-serif" fill="#141519">22</text>
<text x="1433.5" y="1153.6" text-anchor="middle" font-size="14.3" textLength="38.4" lengthAdjust="spacingAndGlyphs" font-family="Liberation Sans, DejaVu Sans, sans-serif" fill="#141519">12:00</text>
<text x="1504.5" y="1153.6" text-anchor="middle" font-size="14.3" font-weight="bold" font-family="Liberation Sans, DejaVu Sans, sans-serif" fill="#141519">23</text>
<text x="1575.5" y="1153.6" text-anchor="middle" font-size="14.3" textLength="38.4" lengthAdjust="spacingAndGlyphs" font-family="Liberation Sans, DejaVu Sans, sans-serif" fill="#141519">12:00</text>
<text x="1646.5" y="1153.6" text-anchor="middle" font-size="14.3" font-weight="bold" font-family="Liberation Sans, DejaVu Sans, sans-serif" fill="#141519">24</text>
<text x="1717.5" y="1153.6" text-anchor="middle" font-size="14.3" textLength="38.4" lengthAdjust="spacingAndGlyphs" font-family="Liberation Sans, DejaVu Sans, sans-serif" fill="#141519">12:00</text>
<text x="1788.5" y="1153.6" text-anchor="middle" font-size="14.3" font-weight="bold" font-family="Liberation Sans, DejaVu Sans, sans-serif" fill="#141519">25</text>
<text x="1859.5" y="1153.6" text-anchor="middle" font-size="14.3" textLength="38.4" lengthAdjust="spacingAndGlyphs" font-family="Liberation Sans, DejaVu Sans, sans-serif" fill="#141519">12:00</text>
<text x="1930.5" y="1153.6" text-anchor="middle" font-size="14.3" font-weight="bold" font-family="Liberation Sans, DejaVu Sans, sans-serif" fill="#141519">28</text>
<path d="M0 1165.4H2047" stroke="#e9e9e9" stroke-width="1.3" fill="none"/>
<rect x="-0.75" y="-0.75" width="2048" height="1200" rx="5" fill="none" stroke="#e7e7e7" stroke-width="1.5"/>
<path d="M1993.2 1149.1L1997.6 1141.6H2007.3L2011.7 1149.1L2007.3 1156.6H1997.6Z" stroke="#141519" stroke-width="1.4" fill="none" stroke-linejoin="round"/><circle cx="2002.4" cy="1149.1" r="2.6" stroke="#141519" stroke-width="1.4" fill="none"/>
<g transform="translate(14.8,1091.0) scale(1.045)" fill="#141519" stroke="#fff" stroke-width="1.6" paint-order="stroke"><path d="M14 22H7V11H0V4h14v18z"/><circle cx="20" cy="8" r="4"/><path d="M28 22h-8l7.5-18h8L28 22z"/></g>
<circle cx="21.8" cy="19.5" r="11.3" fill="#d69a06"/>
<path d="M19.7 15.2H24.2L26 18.3H17.9ZM15.7 20.3H19.7L21.3 23.3H13.6ZM24.2 20.3H28.1L29.9 23.3H22.3Z" fill="#fff"/>
<text x="36.9" y="26.6" font-size="20" font-family="Liberation Sans, DejaVu Sans, sans-serif" fill="#141519" textLength="87.0" lengthAdjust="spacingAndGlyphs">Gold Spot</text>
<text x="144.3" y="26.6" font-size="20" font-family="Liberation Sans, DejaVu Sans, sans-serif" fill="#141519" textLength="96.7" lengthAdjust="spacingAndGlyphs">U.S. Dollar</text>
<text x="254.3" y="26.6" font-size="20" font-family="Liberation Sans, DejaVu Sans, sans-serif" fill="#141519" textLength="22.3" lengthAdjust="spacingAndGlyphs">4h</text>
<text x="290.2" y="26.6" font-size="20" font-family="Liberation Sans, DejaVu Sans, sans-serif" fill="#141519" textLength="62.6" lengthAdjust="spacingAndGlyphs">OANDA</text>
<text x="136.1" y="26.6" font-size="20" text-anchor="middle" font-family="Liberation Sans, DejaVu Sans, sans-serif" fill="#141519">/</text>
<text x="248.0" y="26.6" font-size="20" text-anchor="middle" font-family="Liberation Sans, DejaVu Sans, sans-serif" fill="#141519">·</text>
<text x="283.2" y="26.6" font-size="20" text-anchor="middle" font-family="Liberation Sans, DejaVu Sans, sans-serif" fill="#141519">·</text>
<path d="M366.8 12.9H381.8L378 20.1L381.8 27.3H366.8Z" fill="#81c784"/>
<circle cx="407.6" cy="19.5" r="11.3" fill="#d9efec"/><circle cx="407.6" cy="19.5" r="5" fill="#0b6b58"/>
<text x="429" y="25.2" font-size="16.2" font-family="Liberation Sans, DejaVu Sans, sans-serif" fill="#141519" textLength="21.5" lengthAdjust="spacingAndGlyphs">Vol</text>
<text x="452.9" y="25.2" font-size="16.2" font-family="Liberation Sans, DejaVu Sans, sans-serif" fill="#f23645" textLength="49" lengthAdjust="spacingAndGlyphs">31.27 K</text>
<text x="510.9" y="25.2" font-size="16.2" font-family="Liberation Sans, DejaVu Sans, sans-serif" fill="#f23645" textLength="112.3" lengthAdjust="spacingAndGlyphs">−6.830 (−0.14%)</text>
<rect x="11.9" y="38.6" width="36.6" height="24" rx="4" fill="#fff" stroke="#e6e6e8" stroke-width="1.2"/>
<path d="M18.3 48.4L23.2 53.1L28 48.4" stroke="#141519" stroke-width="1.35" fill="none"/>
<text x="35" y="55.9" font-size="15" font-family="Liberation Sans, DejaVu Sans, sans-serif" fill="#141519">4</text>
</svg>
</body></html>
